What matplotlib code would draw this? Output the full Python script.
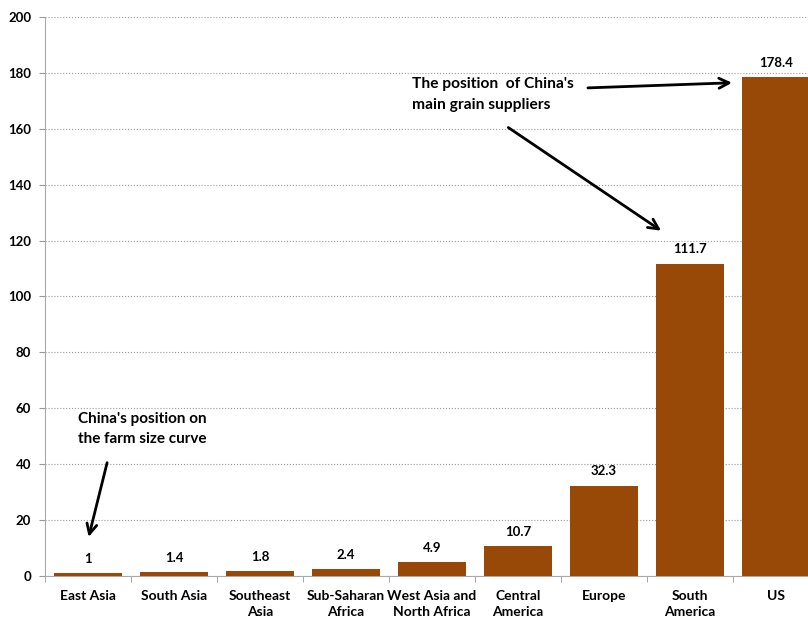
import matplotlib.pyplot as plt
import numpy as np

# farm size by region (hectares)
regions = ['East Asia', 'South Asia', 'Southeast\nAsia', 'Sub-Saharan\nAfrica',
           'West Asia and\nNorth Africa', 'Central\nAmerica', 'Europe',
           'South\nAmerica', 'US']
farm_size = [1, 1.4, 1.8, 2.4, 4.9, 10.7, 32.3, 111.7, 178.4]
value_labels = ['1', '1.4', '1.8', '2.4', '4.9', '10.7', '32.3', '111.7', '178.4']
y_ticks = [0, 20, 40, 60, 80, 100, 120, 140, 160, 180, 200]

plt.rcParams['font.family'] = ['Lato', 'DejaVu Sans']
plt.rcParams['font.weight'] = 'bold'

fig = plt.figure(figsize=(8.08, 6.18), dpi=100)
ax = fig.add_axes([0.0557, 0.068, 0.958, 0.9045])

x = np.arange(len(regions))
bars = ax.bar(x, farm_size, width=0.79, color='#984807', zorder=3)

for xi, v, lab in zip(x, farm_size, value_labels):
    ax.annotate(lab, (xi, v), xytext=(0, 6), textcoords='offset points',
                ha='center', va='bottom', fontsize=9.5, fontweight='bold')

ax.set_xlim(-0.5, len(regions) - 0.5)
ax.set_ylim(0, 200)
ax.set_yticks(y_ticks)
ax.set_xticks(x)
ax.set_xticklabels(regions, fontsize=10, fontweight='bold', linespacing=1.45)
ax.set_xticks(np.arange(-0.5, len(regions), 1), minor=True)
ax.tick_params(axis='x', which='major', length=0, pad=10)
ax.tick_params(axis='x', which='minor', length=4, color='#999999')
ax.tick_params(axis='y', length=4, color='#999999', labelsize=9.5, pad=6)
for t in ax.get_yticklabels():
    t.set_fontweight('bold')

ax.grid(axis='y', ls=':', color='#999999', lw=0.8, zorder=0)
ax.spines['top'].set_visible(False)
ax.spines['right'].set_visible(False)
ax.spines['left'].set_color('#aaaaaa')
ax.spines['bottom'].set_color('#aaaaaa')

# annotations
ax.text(-0.12, 52.5, "China's position on\nthe farm size curve", fontsize=11,
        fontweight='bold', ha='left', va='center', linespacing=1.55)
ax.annotate('', xy=(0.0, 13), xytext=(0.23, 41.5),
            arrowprops=dict(arrowstyle='->', lw=2, color='black', mutation_scale=18))

ax.text(3.77, 172.3, "The position  of China's\nmain grain suppliers", fontsize=11.2,
        fontweight='bold', ha='left', va='center', linespacing=1.6)
ax.annotate('', xy=(7.52, 176.5), xytext=(5.78, 174.6),
            arrowprops=dict(arrowstyle='->', lw=2, color='black', mutation_scale=18))
ax.annotate('', xy=(6.69, 123), xytext=(4.86, 161),
            arrowprops=dict(arrowstyle='->', lw=2, color='black', mutation_scale=18))

fig.savefig('out.png', dpi=100)
